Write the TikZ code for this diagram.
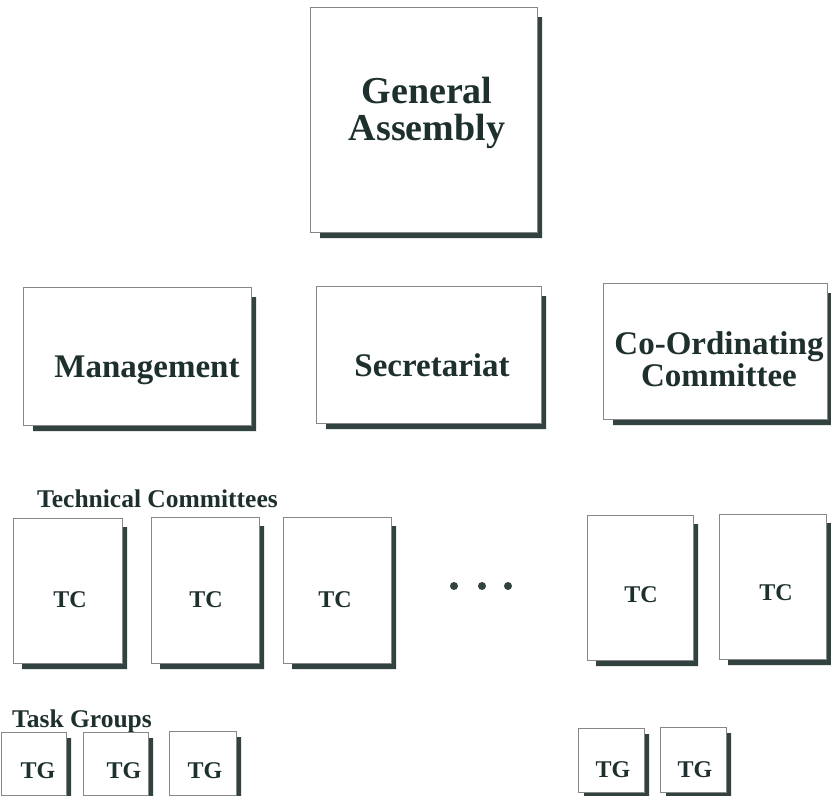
\documentclass[tikz,border=0pt]{standalone}
\usepackage{fontspec}
\setmainfont{Liberation Serif}
\definecolor{txt}{RGB}{30,48,46}
\definecolor{shd}{RGB}{50,66,64}
\definecolor{edge}{RGB}{135,135,135}
\tikzset{
  frame/.style={draw=edge, line width=0.8pt, fill=white, inner sep=0pt, anchor=north west},
  lbl/.style={text=txt, inner sep=0pt, anchor=base},
  shadowfill/.style={fill=shd},
  dotmark/.style={circle, fill=shd, inner sep=0pt, minimum size=8pt}
}
\newcommand\orgbox[6]{%
  \fill[shadowfill] (#4,#3+#6) -- (#4+5,#3+#6) -- (#4+5,#5+6) -- (#2+#6,#5+6) -- (#2+#6,#5) -- (#4,#5) -- cycle;
  \node[frame, minimum width=#4pt-#2pt, minimum height=#5pt-#3pt] (#1) at (#2,#3) {};
}
\newcommand\bigf{\bfseries\fontsize{38}{37}\selectfont}
\newcommand\midf{\bfseries\fontsize{33}{28}\selectfont}
\newcommand\tcf{\bfseries\fontsize{24}{24}\selectfont}
\newcommand\labf{\bfseries\fontsize{25.5}{25.5}\selectfont}
\begin{document}
\begin{tikzpicture}[x=1pt,y=-1pt]
\useasboundingbox (0,0) rectangle (831,796);
\fill[white] (0,0) rectangle (831,796);
% top
\orgbox{ga}{310}{7}{537}{232}{10}
\node[lbl, font=\bigf, align=center] (gat) at (427,140) {General\\Assembly};
% second row
\orgbox{mg}{23}{287}{251}{425}{10}
\node[lbl, font=\midf] (mgt) at (147,377) {Management};
\orgbox{se}{316}{286}{541}{423}{10}
\node[lbl, font=\midf] (set) at (432,376) {Secretariat};
\orgbox{co}{603}{283}{827}{419}{10}
\node[lbl, font=\midf, align=center] (cot) at (719,386) {Co-Ordinating\\Committee};
% technical committees
\node[lbl, font=\labf, anchor=base west] (tclab) at (37,507) {Technical Committees};
\orgbox{tc1}{13}{518}{122}{663}{9}
\orgbox{tc2}{151}{517}{259}{663}{9}
\orgbox{tc3}{283}{517}{391}{663}{9}
\orgbox{tc4}{587}{515}{693}{660}{9}
\orgbox{tc5}{719}{514}{826}{659}{9}
\node[lbl, font=\tcf] (tc1t) at (70,607) {TC};
\node[lbl, font=\tcf] (tc2t) at (206,607) {TC};
\node[lbl, font=\tcf] (tc3t) at (335,607) {TC};
\node[lbl, font=\tcf] (tc4t) at (641,602) {TC};
\node[lbl, font=\tcf] (tc5t) at (776,600) {TC};
\node[dotmark] (d1) at (454,586) {};
\node[dotmark] (d2) at (482,586) {};
\node[dotmark] (d3) at (508,586) {};
% task groups
\node[lbl, font=\labf, anchor=base west] (tglab) at (12,727) {Task Groups};
\orgbox{tg1}{0.5}{732}{66}{795}{6}
\orgbox{tg2}{83}{732}{148}{795}{6}
\orgbox{tg3}{169}{731}{236}{795}{6}
\orgbox{tg4}{578}{728}{644}{792}{6}
\orgbox{tg5}{660}{727}{726}{792}{6}
\node[lbl, font=\tcf] (tg1t) at (38,778) {TG};
\node[lbl, font=\tcf] (tg2t) at (124,778) {TG};
\node[lbl, font=\tcf] (tg3t) at (205,778) {TG};
\node[lbl, font=\tcf] (tg4t) at (613,777) {TG};
\node[lbl, font=\tcf] (tg5t) at (695,777) {TG};
\end{tikzpicture}
\end{document}
